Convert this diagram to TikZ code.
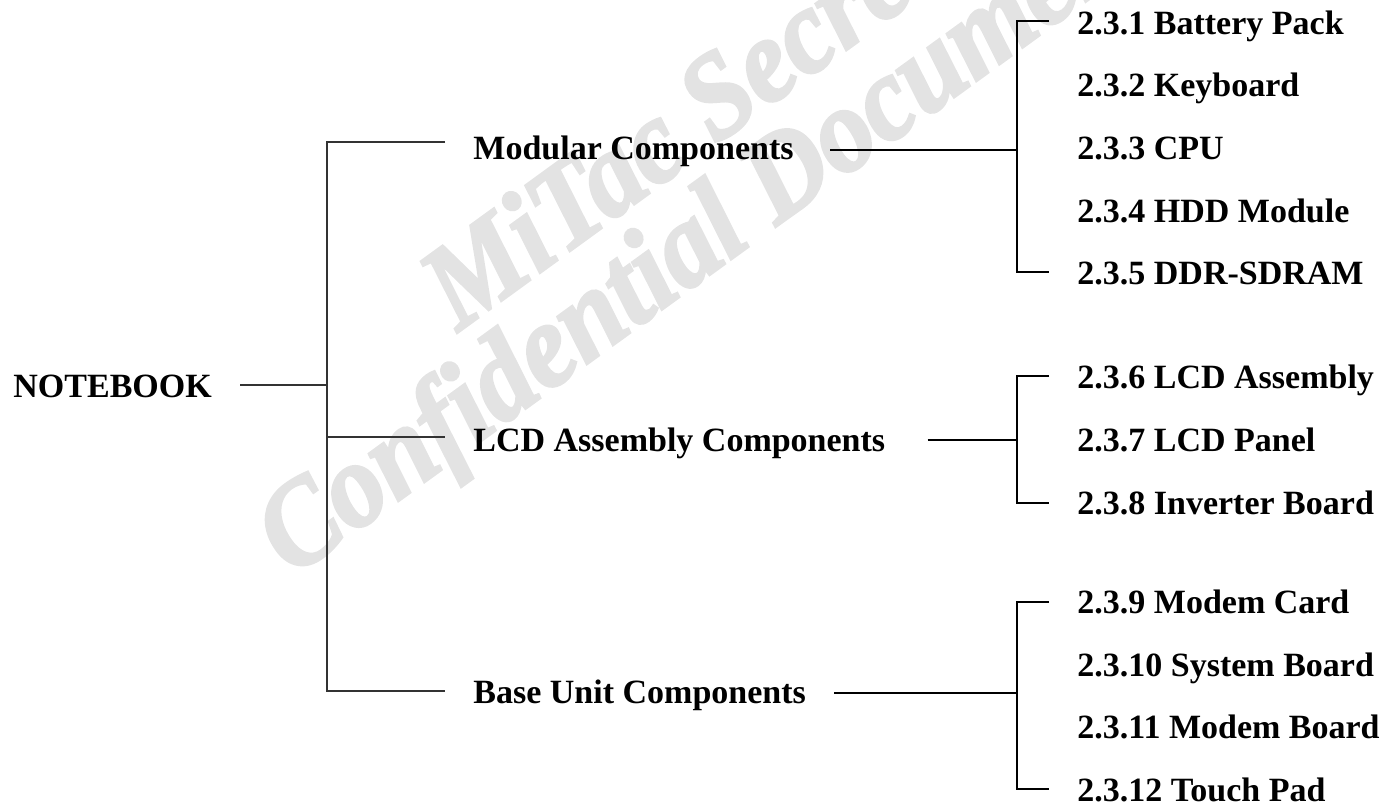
\documentclass[tikz,border=0pt]{standalone}
\usepackage{fontspec}
\setmainfont{Liberation Serif}
\newfontfamily\wmfont{Liberation Serif}[FakeBold=2.5]
\usetikzlibrary{calc}

\begin{document}
\begin{tikzpicture}[
    x=0.5pt, y=-0.5pt,
    item/.style={font=\fontsize{17}{20}\selectfont\bfseries, anchor=base west,
                 inner xsep=14pt, inner ysep=0pt},
    tree/.style={line width=0.75pt, black!80},
    link/.style={line width=0.9pt, black},
    wmark/.style={font=\wmfont\fontsize{60}{66}\selectfont\bfseries\itshape,
                  text=black!11, anchor=base west, rotate=36, xscale=0.92,
                  inner sep=0pt}
  ]
  \useasboundingbox (0,0) rectangle (1392,809);
  \clip (0,0) rectangle (1392,809);

  % watermark
  \node[wmark] (wm1) at (458,332) {MiTac Secret};
  \node[wmark] (wm2) at (292,578) {Confidential Document};

  % root and the three groups
  \node[item] (nb) at (-15,397) {NOTEBOOK};
  \node[item] (mod) at (445,159) {Modular Components};
  \node[item] (lcd) at (445,451) {LCD Assembly Components};
  \node[item] (base) at (445,703) {Base Unit Components};

  \coordinate (t0) at (327,385);
  \coordinate (t1) at (327,142);
  \coordinate (t2) at (327,437);
  \coordinate (t3) at (327,691);
  \draw[tree] (nb.east |- t0) -- (t0);
  \draw[tree] (mod.west |- t1) -- (t1) -- (t3) -- (base.west |- t3);
  \draw[tree] (t2) -- (lcd.west |- t2);

  % modular components
  \node[item] (c1) at (1049,34) {2.3.1 Battery Pack};
  \node[item] (c2) at (1049,96.7) {2.3.2 Keyboard};
  \node[item] (c3) at (1049,159.3) {2.3.3 CPU};
  \node[item] (c4) at (1049,222) {2.3.4 HDD Module};
  \node[item] (c5) at (1049,284.7) {2.3.5 DDR-SDRAM};
  \coordinate (k1) at (1017,21);
  \coordinate (km) at (1017,150);
  \coordinate (k5) at (1017,272);
  \draw[link] ($(mod.east |- km)+(8,0)$) -- (km);
  \draw[link] (c1.west |- k1) -- (k1) -- (k5) -- (c5.west |- k5);

  % lcd assembly components
  \node[item] (c6) at (1049,388) {2.3.6 LCD Assembly};
  \node[item] (c7) at (1049,451) {2.3.7 LCD Panel};
  \node[item] (c8) at (1049,514) {2.3.8 Inverter Board};
  \coordinate (k6) at (1017,376);
  \coordinate (kl) at (1017,440);
  \coordinate (k8) at (1017,503);
  \draw[link] ($(lcd.east |- kl)+(14,0)$) -- (kl);
  \draw[link] (c6.west |- k6) -- (k6) -- (k8) -- (c8.west |- k8);

  % base unit components
  \node[item] (c9) at (1049,613.5) {2.3.9 Modem Card};
  \node[item] (c10) at (1049,676) {2.3.10 System Board};
  \node[item] (c11) at (1049,738.5) {2.3.11 Modem Board};
  \node[item] (c12) at (1049,801) {2.3.12 Touch Pad};
  \coordinate (k9) at (1017,602);
  \coordinate (kb) at (1017,693);
  \coordinate (k12) at (1017,789);
  \draw[link] (base.east |- kb) -- (kb);
  \draw[link] (c9.west |- k9) -- (k9) -- (k12) -- (c12.west |- k12);
\end{tikzpicture}
\end{document}
